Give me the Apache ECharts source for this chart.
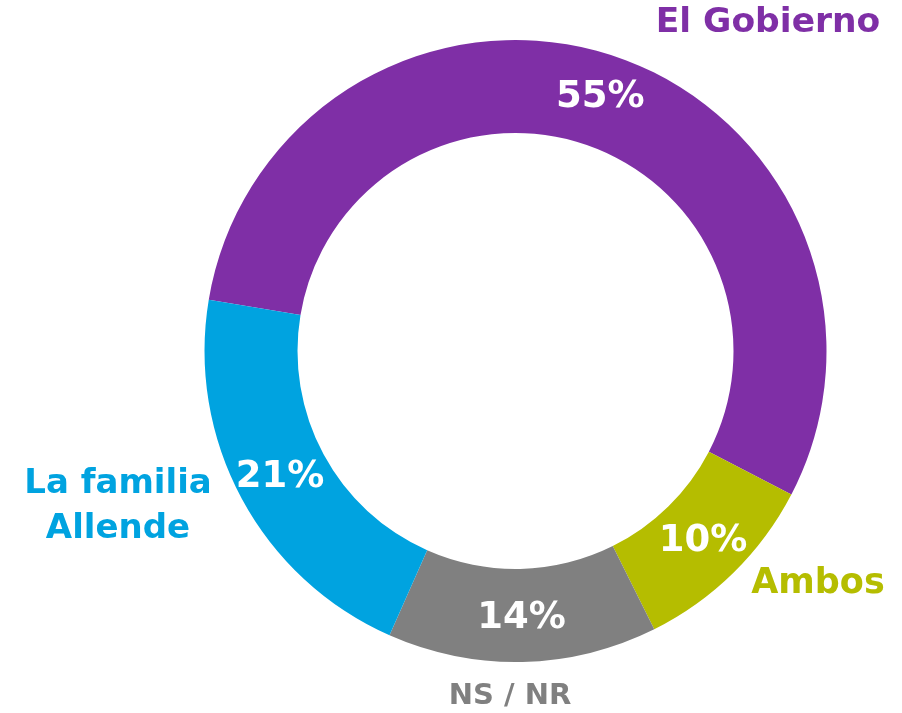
<!DOCTYPE html>
<html>
<head>
<meta charset="utf-8">
<script src="https://cdn.jsdelivr.net/npm/echarts@6/dist/echarts.min.js"></script>
<style>
  html, body { margin: 0; padding: 0; background: #fff; }
  #chart { width: 902px; height: 713px; }
</style>
</head>
<body>
<div id="chart"></div>
<script>
// Datos del gráfico
const categorias = ['El Gobierno', 'Ambos', 'NS / NR', 'La familia\nAllende'];
const valores = [55, 10, 14, 21];
const colores = ['#7F2FA6', '#B5BD00', '#808080', '#00A3E0'];

const FONT = '"DejaVu Sans", sans-serif';

// Posiciones de las etiquetas exteriores (centro del texto)
const posEtiquetas = [
  { x: 768, y: 23, size: 34.5 },
  { x: 818, y: 584, size: 35 },
  { x: 510, y: 696, size: 29 },
  { x: 118, y: 507, size: 34 },
];

const chart = echarts.init(document.getElementById('chart'), null, { renderer: 'canvas' });

const option = {
  animation: false,
  series: [
    {
      type: 'pie',
      center: [515.5, 351],
      radius: [218, 311],
      startAngle: 170.5,
      clockwise: true,
      avoidLabelOverlap: false,
      silent: true,
      data: valores.map((v, i) => ({
        name: categorias[i],
        value: v,
        itemStyle: { color: colores[i] },
      })),
      label: {
        show: true,
        position: 'inside',
        formatter: '{c}%',
        color: '#fff',
        fontFamily: FONT,
        fontWeight: 'bold',
        fontSize: 37,
      },
      labelLine: { show: false },
    },
  ],
  graphic: categorias.map((c, i) => ({
    type: 'text',
    x: posEtiquetas[i].x,
    y: posEtiquetas[i].y,
    style: {
      text: c,
      fill: colores[i],
      font: `bold ${posEtiquetas[i].size}px ${FONT}`,
      align: 'center',
      verticalAlign: 'middle',
      lineHeight: 45,
    },
  })),
};

chart.setOption(option);
</script>
</body>
</html>
